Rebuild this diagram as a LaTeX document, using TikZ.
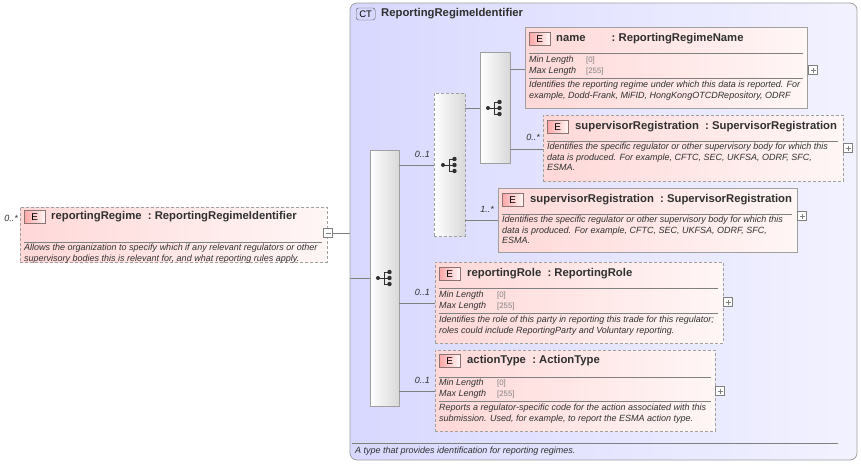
\documentclass[tikz,border=0pt]{standalone}
\usepackage{fontspec}
\setmainfont{Liberation Sans}
\usetikzlibrary{fit}
\definecolor{elb}{HTML}{A0A0A0}
\definecolor{pinkL}{HTML}{FFD8D8}
\definecolor{pinkR}{HTML}{FFF6F6}
\definecolor{ctL}{HTML}{D8D8FF}
\definecolor{ctR}{HTML}{F2F2FF}
\definecolor{txt}{HTML}{303030}
\begin{document}
\begin{tikzpicture}[x=1pt,y=-1pt,
 el/.style={draw=elb, line width=0.8pt, left color=pinkL, right color=pinkR, inner sep=0pt},
 eld/.style={el, dashed, dash pattern=on 3pt off 2pt},
 seq/.style={draw=elb, line width=0.8pt, left color=white, right color=black!15, inner sep=0pt},
 seqd/.style={seq, dashed, dash pattern=on 3pt off 2pt},
 hd/.style={anchor=west, font=\fontsize{11.3}{13}\selectfont\bfseries, text=txt, inner sep=0pt},
 ds/.style={anchor=north west, align=left, font=\fontsize{9}{10.5}\selectfont\itshape, text=txt, inner sep=0pt},
 lbl/.style={font=\fontsize{9}{10}\selectfont\itshape, text=txt, inner sep=0pt},
 val/.style={anchor=west, font=\fontsize{7.8}{9}\selectfont, text=gray, inner sep=0pt},
 conn/.style={draw=gray, line width=0.6pt},
 sep/.style={draw=gray, line width=0.6pt},
 pb/.style={draw=gray, fill=white, minimum size=9pt, inner sep=0pt, line width=0.5pt}]
\useasboundingbox (0,0) rectangle (861,466);
\newcommand\badge[3]{\node[draw=gray!90!red, left color=red!35, right color=pinkR, minimum width=21pt, minimum height=13pt, inner sep=0pt, font=\fontsize{10}{11}\selectfont, anchor=west] (#3) at (#1,#2) {E};}
\newcommand\plusbox[3]{\node[pb] (#3) at (#1,#2) {}; \draw[gray, line width=0.5pt] ([xshift=-2.5pt]#3.center) -- ([xshift=2.5pt]#3.center) ([yshift=-2.5pt]#3.center) -- ([yshift=2.5pt]#3.center);}
\newcommand\seqicon[2]{\fill[txt] (#1-6,#2) circle (2pt); \draw[txt, line width=0.9pt] (#1-6,#2) -- (#1,#2) (#1,#2-6) -- (#1,#2+6) (#1,#2-6) -- (#1+5,#2-6) (#1,#2) -- (#1+5,#2) (#1,#2+6) -- (#1+5,#2+6); \foreach \dy in {-6,0,6} \fill[txt] (#1+5.5,#2+\dy) circle (2.2pt);}
% CT box
\node[fit={(350,3)(857,460)}, draw=elb, line width=0.8pt, rounded corners=7pt, left color=ctL, right color=ctR, inner sep=0pt] (ct) {};
\node[draw=txt!80, fill=ctL, rounded corners=2.5pt, minimum width=19pt, minimum height=12pt, inner sep=0pt, font=\fontsize{9.5}{10}\selectfont, anchor=west] (ctb) at (356,14) {CT};
\node[hd] (ctt) at (381,14) {ReportingRegimeIdentifier};
\draw[sep] (352,443) -- (838,443);
\node[ds] (ctd) at (355,447) {A type that provides identification for reporting regimes.};
% left element
\node[fit={(20,207)(327,262)}, eld] (rr) {};
\badge{24}{217}{rrb}
\node[hd] at (51,217) {reportingRegime\ \ :\ ReportingRegimeIdentifier};
\draw[sep] (24,242) -- (322,242);
\node[ds] at (24,244) {Allows the organization to specify which if any relevant regulators or other\\supervisory bodies this is relevant for, and what reporting rules apply.};
\node[lbl, anchor=east] at (18,218) {0..*};
\node[pb] (rrm) at (328,233) {}; \draw[gray, line width=0.5pt] (325.5,233) -- (330.5,233);
\draw[conn] (rrm.east) -- (ct.west |- rrm.east);
% main sequence
\node[fit={(370,150)(399,406)}, seq] (s1) {};
\seqicon{384}{278}
\draw[conn] (ct.west |- 0,278) -- (s1.west |- 0,278);
% choice
\node[fit={(434,93)(465,236)}, seqd] (ch) {};
\seqicon{449}{165}
\draw[conn] (s1.east |- 0,165) -- (ch.west |- 0,165);
\node[lbl, anchor=east] at (430,154) {0..1};
% inner seq
\node[fit={(480,52)(510,163)}, seq] (s2) {};
\seqicon{494}{108}
\draw[conn] (ch.east |- 0,108) -- (s2.west |- 0,108);
% name
\node[fit={(525,27)(807,108)}, el] (nm) {};
\badge{529}{39}{nmb}
\node[hd] at (556,39) {name\hspace{26pt}:\ ReportingRegimeName};
\draw[sep] (529,53) -- (803,53);
\node[ds] at (529,56) {Min Length\\Max Length};
\node[val] at (586,60.5) {[0]}; \node[val] at (586,71) {[255]};
\draw[sep] (529,78) -- (803,78);
\node[ds] at (529,81) {Identifies the reporting regime under which this data is reported. For\\example, Dodd-Frank, MiFID, HongKongOTCDRepository, ODRF};
\plusbox{813}{70}{nmp}
\draw[conn] (s2.east |- 0,69) -- (nm.west |- 0,69);
% supervisorRegistration 0..*
\node[fit={(543,115)(843,181)}, eld] (sr1) {};
\badge{547}{127}{sr1b}
\node[hd] at (575,127) {supervisorRegistration\ \ :\ SupervisorRegistration};
\draw[sep] (547,141) -- (838,141);
\node[ds] at (547,143) {Identifies the specific regulator or other supervisory body for which this\\data is produced. For example, CFTC, SEC, UKFSA, ODRF, SFC,\\ESMA.};
\plusbox{848}{148}{sr1p}
\draw[conn] (s2.east |- 0,149) -- (sr1.west |- 0,149);
\node[lbl, anchor=east] at (540,137) {0..*};
% supervisorRegistration 1..*
\node[fit={(498,188)(797,252)}, el] (sr2) {};
\badge{502}{200}{sr2b}
\node[hd] at (530,200) {supervisorRegistration\ \ :\ SupervisorRegistration};
\draw[sep] (502,214) -- (792,214);
\node[ds] at (502,216) {Identifies the specific regulator or other supervisory body for which this\\data is produced. For example, CFTC, SEC, UKFSA, ODRF, SFC,\\ESMA.};
\plusbox{802}{216}{sr2p}
\draw[conn] (ch.east |- 0,220) -- (sr2.west |- 0,220);
\node[lbl, anchor=east] at (494,209) {1..*};
% reportingRole
\node[fit={(435,262)(723,343)}, eld] (rl) {};
\badge{439}{274}{rlb}
\node[hd] at (467,274) {reportingRole\ \ :\ ReportingRole};
\draw[sep] (439,288) -- (718,288);
\node[ds] at (439,291) {Min Length\\Max Length};
\node[val] at (497,295.5) {[0]}; \node[val] at (497,306) {[255]};
\draw[sep] (439,313) -- (718,313);
\node[ds] at (439,316) {Identifies the role of this party in reporting this trade for this regulator;\\roles could include ReportingParty and Voluntary reporting.};
\plusbox{728}{302}{rlp}
\draw[conn] (s1.east |- 0,303) -- (rl.west |- 0,303);
\node[lbl, anchor=east] at (430,292) {0..1};
% actionType
\node[fit={(435,350)(715,431)}, eld] (at) {};
\badge{439}{361}{atb}
\node[hd] at (467,361) {actionType\ \ :\ ActionType};
\draw[sep] (439,377) -- (711,377);
\node[ds] at (439,379) {Min Length\\Max Length};
\node[val] at (497,383.5) {[0]}; \node[val] at (497,394) {[255]};
\draw[sep] (439,401) -- (711,401);
\node[ds] at (439,404) {Reports a regulator-specific code for the action associated with this\\submission. Used, for example, to report the ESMA action type.};
\plusbox{720}{391}{atp}
\draw[conn] (s1.east |- 0,391) -- (at.west |- 0,391);
\node[lbl, anchor=east] at (430,380) {0..1};
\end{tikzpicture}
\end{document}
